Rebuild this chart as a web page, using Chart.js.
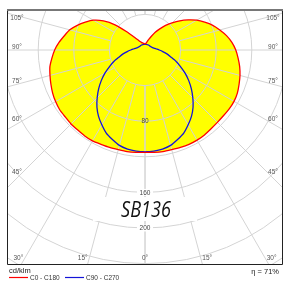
<!DOCTYPE html>
<html><head><meta charset="utf-8">
<script src="https://cdn.jsdelivr.net/npm/chart.js@4/dist/chart.umd.min.js"></script>
<style>html,body{margin:0;padding:0;background:#fff;overflow:hidden}canvas{display:block}</style>
</head><body>
<canvas id="c" width="283" height="282"></canvas>
<script>
// ---- data (cd/klm) ----
const angles = [0,5,10,15,20,25,30,35,40,45,50,55,60,65,70,75,80,85,90,95,100,105,110,115,120,125,130,135,140,145,150,155,160,165,170,175,180];
const c0   = [115,115.5,116,116,116.5,117,117,116.5,115.5,115,115,115.5,115.5,114.5,112.5,110.5,108,105,102,98,93,87,81,74,67,59,51,43,36,29,23,17,13,10,8,7,7];
const c180 = [115,115.5,116,116,116.5,117,118,118,117.5,117.5,117,117,116,114.5,112.5,110.5,108.5,105,101.5,97,92,87.5,81,74,67,57,44,29,19,14,11,9.5,8.5,8,7.5,7,7];
const c90  = [114.5,114,113,111,107,103,97,91,84,76,68,60,52,44,37,30,25,20,16,13,11,9.5,8.5,8,7.5,7.2,7,7,7,6.8,6.6,6.5,6.5,6.5,6.5,6.3,6.5];
const c270 = [114.5,114,113,111,107,103,97,91,84,76,68,60,52,44,37,30,25,20,16,13,11,9.5,8.5,8,7.5,7.2,7,7,7,6.8,6.6,6.5,6.5,6.5,6.5,6.3,6.5];
const ringValues = [40,80,120,160,200,240,280];
const ringLabels = [80,160,200];
const spokeAngles = [0,15,30,45,60,75,90,105,120,135,150,165,180];
const angleLabels = [0,15,30,45,60,75,90,105];
const seriesNames = ['C0 - C180','C90 - C270'];
const titleText = 'SB136';
const unitText = 'cd/klm';
const etaText = 'η = 71%';

// ---- layout ----
const BOX = {l:7, t:9, r:282, b:264};
const PX = 0.89, CX = 145, CY = 50, W = 283, H = 282;

function half(vals, side){
  return angles.map((a,i)=>{const t=a*Math.PI/180; return {x: side*vals[i]*Math.sin(t), y: -vals[i]*Math.cos(t)};});
}
function loop(a, b){ return half(a,1).concat(half(b,-1).reverse()); }

const polarGrid = {
  id:'polarGrid',
  beforeDatasetsDraw(chart){
    const {ctx, scales:{x,y}} = chart;
    const cx = x.getPixelForValue(0), cy = y.getPixelForValue(0);
    const k = x.getPixelForValue(1) - cx;
    ctx.save();
    ctx.beginPath(); ctx.rect(BOX.l, BOX.t, BOX.r-BOX.l, BOX.b-BOX.t); ctx.clip();
    ctx.strokeStyle = '#d4d4d4'; ctx.lineWidth = 1;
    ringValues.forEach(v=>{ctx.beginPath(); ctx.arc(cx, cy, v*k, 0, 2*Math.PI); ctx.stroke();});
    const r0 = ringValues[0]*k;
    spokeAngles.forEach(a=>{
      [1,-1].forEach(s=>{
        const t=a*Math.PI/180, dx=s*Math.sin(t), dy=Math.cos(t);
        ctx.beginPath(); ctx.moveTo(cx+dx*r0, cy+dy*r0); ctx.lineTo(cx+dx*500, cy+dy*500); ctx.stroke();
      });
    });
    // title background
    ctx.fillStyle = '#fff';
    ctx.fillRect(cx-52, 197, 104, 24);
    // ring labels
    ctx.font = '6.5px "Liberation Sans"'; ctx.textAlign='center'; ctx.textBaseline='middle';
    ringLabels.forEach(v=>{
      const py = cy + v*k;
      if (v > c0[0]) { ctx.fillStyle='#fff'; ctx.fillRect(cx-8, py-3.5, 16, 7); }
      ctx.fillStyle = '#444'; ctx.fillText(String(v), cx, py+0.5);
    });
    // angle labels
    const L=17, R=273, B=258;
    angleLabels.forEach(a=>{
      (a===0?[1]:[1,-1]).forEach(s=>{
        const t=a*Math.PI/180, dx=s*Math.sin(t), dy=Math.cos(t);
        let ts = Math.abs(dx)>1e-6 ? (s>0?(R-cx):(cx-L))/Math.abs(dx) : Infinity;
        let tb = dy>1e-6 ? (B-cy)/dy : Infinity;
        ctx.fillStyle='#555';
        if (tb <= ts) {
          const px = cx + dx*tb + (a===0?0:s*6.5);
          ctx.textAlign='center'; ctx.fillText(a+'°', px, B);
        } else {
          const py = cy + dy*ts;
          const off = a<90 ? -(2.3+4.5*Math.cos(t)) : (a===90 ? -2.3 : 2.3);
          ctx.textAlign='center'; ctx.fillText(a+'°', s>0?R:L, py+off);
        }
      });
    });
    // title
    ctx.save();
    ctx.translate(cx+1, 217);
    ctx.scale(0.86,1);
    ctx.font = 'italic 21px "Open Sans"'; ctx.textAlign='center'; ctx.textBaseline='alphabetic';
    ctx.fillStyle = '#111'; ctx.fillText(titleText, 0, 0);
    ctx.restore();
    ctx.restore();
  },
  afterDraw(chart){
    const {ctx} = chart;
    ctx.save();
    // frame
    ctx.strokeStyle='#222'; ctx.lineWidth=1;
    ctx.beginPath();
    ctx.moveTo(BOX.l+0.5, BOX.t); ctx.lineTo(BOX.l+0.5, BOX.b+0.5); ctx.lineTo(BOX.r+0.5, BOX.b+0.5); ctx.lineTo(BOX.r+0.5, BOX.t);
    ctx.stroke();
    ctx.strokeStyle='#777'; ctx.lineWidth=2;
    ctx.beginPath(); ctx.moveTo(BOX.l, BOX.t+1); ctx.lineTo(BOX.r+1, BOX.t+1); ctx.stroke();
    // unit + legend
    ctx.fillStyle='#222'; ctx.textBaseline='alphabetic'; ctx.textAlign='left';
    ctx.font = '7.5px "Liberation Sans"';
    ctx.fillText(unitText, 9, 273);
    ctx.textAlign='right'; ctx.fillText(etaText, 279, 274);
    const colors = chart.data.datasets.map(d=>d.borderColor);
    const xs = [9, 65];
    ctx.font = '6.5px "Liberation Sans"'; ctx.textAlign='left'; ctx.textBaseline='middle';
    seriesNames.forEach((n,i)=>{
      ctx.strokeStyle = colors[i]; ctx.lineWidth=1.2;
      ctx.beginPath(); ctx.moveTo(xs[i], 277.5); ctx.lineTo(xs[i]+19, 277.5); ctx.stroke();
      ctx.fillStyle='#333'; ctx.fillText(n, xs[i]+21, 278);
    });
    ctx.restore();
  }
};

new Chart(document.getElementById('c'), {
  type:'scatter',
  data:{datasets:[
    {label:seriesNames[0], data:loop(c0,c180), showLine:true, borderColor:'#ff0000', backgroundColor:'#ffff00', borderWidth:1.3, pointRadius:0, fill:'shape', tension:0.2},
    {label:seriesNames[1], data:loop(c90,c270), showLine:true, borderColor:'#1414d8', backgroundColor:'transparent', borderWidth:1.3, pointRadius:0, fill:false, tension:0.2}
  ]},
  options:{
    responsive:false, animation:false, devicePixelRatio:1,
    layout:{padding:0},
    scales:{
      x:{type:'linear', display:false, min:-CX/PX, max:(W-CX)/PX},
      y:{type:'linear', display:false, min:-(H-CY)/PX, max:CY/PX}
    },
    plugins:{legend:{display:false}, tooltip:{enabled:false}, filler:{drawTime:'beforeDatasetsDraw'}}
  },
  plugins:[polarGrid]
});
</script>
</body></html>
